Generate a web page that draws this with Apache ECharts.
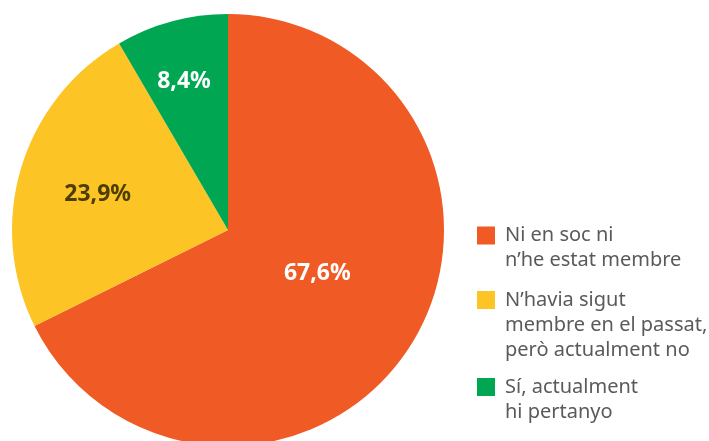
<!DOCTYPE html>
<html>
<head>
<meta charset="utf-8">
<script src="https://cdn.jsdelivr.net/npm/echarts@6/dist/echarts.min.js"></script>
<style>html,body{margin:0;padding:0;background:#fff}#c{width:709px;height:441px}</style>
</head>
<body>
<div id="c"></div>
<script>
const categories = ["Ni en soc ni\nn’he estat membre", "N’havia sigut\nmembre en el passat,\nperò actualment no", "Sí, actualment\nhi pertanyo"];
const values = [67.6, 23.9, 8.4];
const colors = ["#F05A24", "#FCC425", "#00A651"];
const labelColors = ["#ffffff", "#4D3E00", "#ffffff"];

const FONT = "Noto Sans";
const labelOffsets = [[-5, -15], [-24, -4], [-15, -41]];
const legendTops = [235.5, 300, 387];
const LH = 25;

const chart = echarts.init(document.getElementById('c'));
const data = categories.map((c, i) => ({
  name: c, value: values[i],
  itemStyle: { color: colors[i] },
  label: { color: labelColors[i], offset: labelOffsets[i] }
}));
const legends = categories.map((c, i) => {
  const lines = c.split('\n');
  const n = lines.length;
  const h = (2 * n - 1) * LH;
  return {
    show: true, orient: 'vertical', left: 477, top: legendTops[i] - h / 2,
    padding: 0, itemWidth: 18, itemHeight: 18, itemGap: 0,
    icon: 'rect', selectedMode: false,
    data: [c],
    formatter: () => {
      const blanks = [];
      for (let k = 0; k < n - 1; k++) blanks.push('{a| }');
      return blanks.concat(lines.map(l => '{a|' + l + '}')).join('\n');
    },
    textStyle: {
      fontFamily: FONT, fontSize: 20, color: '#5a5a5a', lineHeight: LH,
      rich: { a: { fontFamily: FONT, fontSize: 20, color: '#5a5a5a', lineHeight: LH, padding: [0, 0, 0, 5] } }
    }
  };
});
chart.setOption({
  animation: false,
  legend: legends,
  series: [{
    type: 'pie',
    center: [228, 230],
    radius: [0, 216],
    startAngle: 90,
    clockwise: true,
    silent: true,
    label: {
      show: true, position: 'inside',
      fontFamily: FONT, fontSize: 23, fontWeight: 'bold',
      formatter: p => p.value.toFixed(1).replace('.', ',') + '%'
    },
    labelLine: { show: false },
    emphasis: { disabled: true },
    data: data
  }]
});
</script>
</body>
</html>
